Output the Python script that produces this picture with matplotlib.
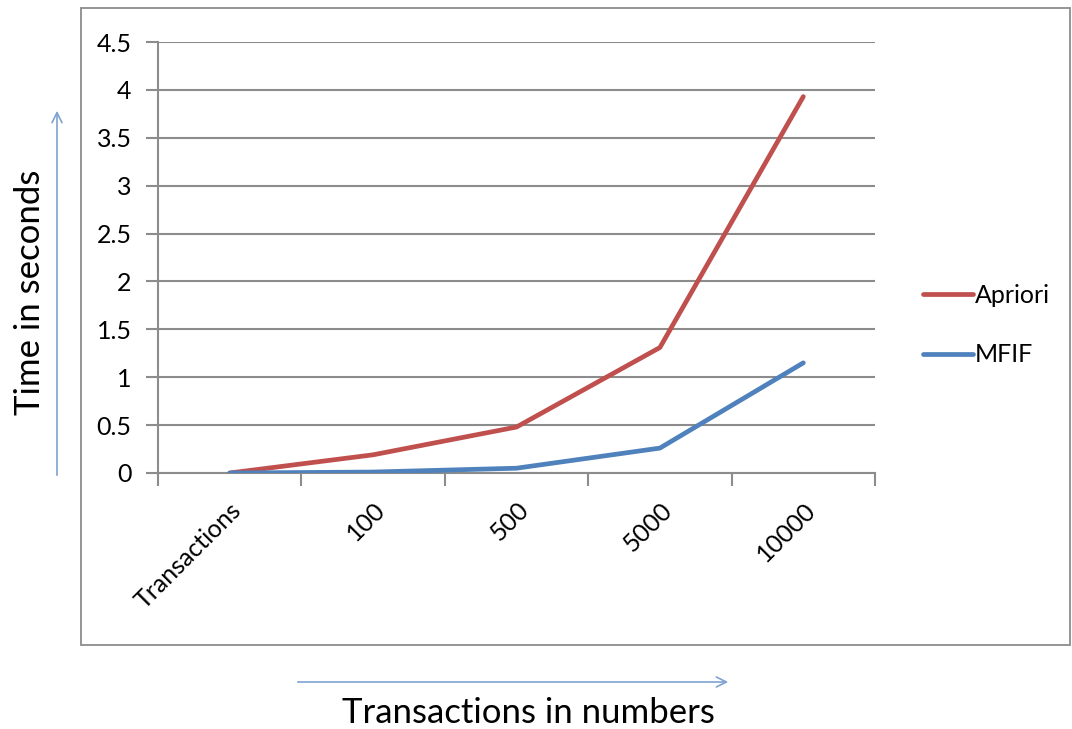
import matplotlib.pyplot as plt
from matplotlib.patches import Rectangle, FancyArrowPatch

# data
categories = ['Transactions', '100', '500', '5000', '10000']
apriori = [0.0, 0.19, 0.48, 1.31, 3.93]
mfif = [0.0, 0.01, 0.05, 0.26, 1.15]

plt.rcParams['font.family'] = ['Lato', 'DejaVu Sans']

fig = plt.figure(figsize=(10.72, 7.29), dpi=100)
ax = fig.add_axes([158 / 1072, 1 - 473 / 729, 717 / 1072, 431 / 729])

x = list(range(len(categories)))
ax.plot(x, apriori, color='#C0504D', linewidth=3.4, solid_capstyle='round', label='Apriori', zorder=3)
ax.plot(x, mfif, color='#4F81BD', linewidth=3.4, solid_capstyle='round', label='MFIF', zorder=3)

ax.set_xlim(-0.5, len(categories) - 0.5)
ax.set_ylim(0, 4.5)
ax.set_yticks([i * 0.5 for i in range(10)])
ax.set_yticklabels(['0', '0.5', '1', '1.5', '2', '2.5', '3', '3.5', '4', '4.5'])
ax.grid(axis='y', color='#8c8c8c', linewidth=1.5, zorder=1)
ax.set_axisbelow(True)

# category labels at centres, tick marks at the boundaries
ax.set_xticks(x)
ax.set_xticklabels(categories, rotation=45, ha='right', va='top', rotation_mode='anchor', fontsize=18)
ax.tick_params(axis='x', which='major', length=0, pad=18)
ax.set_xticks([i - 0.5 for i in range(len(categories) + 1)], minor=True)
ax.tick_params(axis='x', which='minor', length=9, width=1.5, color='#8c8c8c')
ax.tick_params(axis='y', length=9, width=1.5, color='#8c8c8c', labelsize=18, pad=10)

for s in ['top', 'right']:
    ax.spines[s].set_visible(False)
for s in ['left', 'bottom']:
    ax.spines[s].set_color('#8c8c8c')
    ax.spines[s].set_linewidth(1.5)

ax.legend(loc='center left', bbox_to_anchor=(1.035, 0.343), frameon=False, fontsize=18,
          handlelength=2.0, handletextpad=0.1, labelspacing=1.45)

# outer chart border
fig.patches.append(Rectangle((81 / 1072, 1 - 645 / 729), 989 / 1072, 637 / 729,
                             transform=fig.transFigure, fill=False, edgecolor='#8c8c8c', linewidth=1.3))

# blue arrows next to the axis titles
arrow_col = '#7FA3D1'
fig.patches.append(FancyArrowPatch((57 / 1072, 1 - 478 / 729), (57 / 1072, 1 - 108 / 729),
                                   transform=fig.transFigure, arrowstyle='->', mutation_scale=18,
                                   color=arrow_col, linewidth=1.2))
fig.patches.append(FancyArrowPatch((295 / 1072, 1 - 682 / 729), (731 / 1072, 1 - 682 / 729),
                                   transform=fig.transFigure, arrowstyle='->', mutation_scale=18,
                                   color=arrow_col, linewidth=1.2))

fig.text(30 / 1072, 1 - 292 / 729, 'Time in seconds', rotation=90, ha='center', va='center', fontsize=25)
fig.text(528 / 1072, 1 - 713 / 729, 'Transactions in numbers', ha='center', va='center', fontsize=25)

fig.savefig('out.png', dpi=100)
